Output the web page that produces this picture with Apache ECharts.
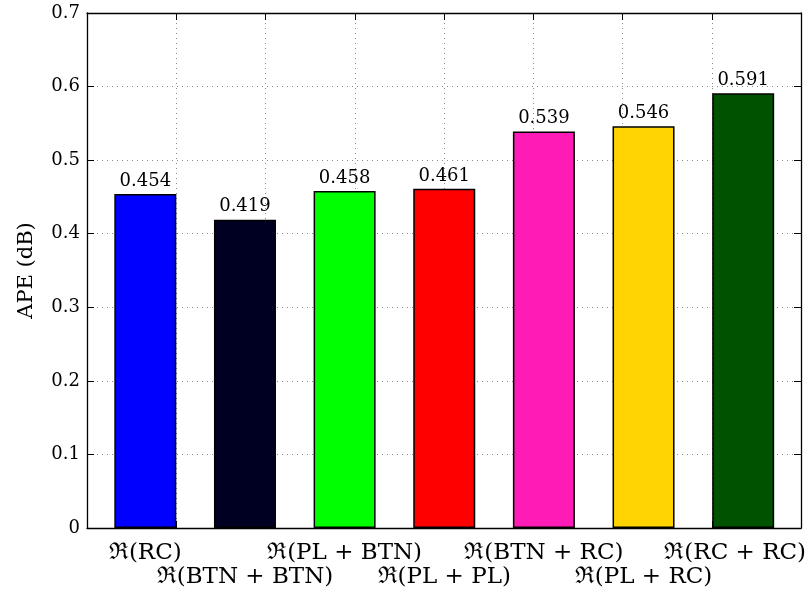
<!DOCTYPE html>
<html>
<head>
<meta charset="utf-8">
<script src="https://cdn.jsdelivr.net/npm/echarts@6/dist/echarts.min.js"></script>
<style>
html,body{margin:0;padding:0;background:#fff;}
#chart{width:810px;height:597px;}
</style>
</head>
<body>
<div id="chart"></div>
<script>
const categories = ['ℜ(RC)', 'ℜ(BTN + BTN)', 'ℜ(PL + BTN)', 'ℜ(PL + PL)', 'ℜ(BTN + RC)', 'ℜ(PL + RC)', 'ℜ(RC + RC)'];
const values = [0.454, 0.419, 0.458, 0.461, 0.539, 0.546, 0.591];
const barColors = ['#0000ff', '#000022', '#00ff00', '#ff0000', '#ff1cb6', '#ffd400', '#005200'];
const yTicks = [0, 0.1, 0.2, 0.3, 0.4, 0.5, 0.6, 0.7];

const FONT = 'DejaVu Serif';
const gridTop = 13, gridH = 515;
const dotted = {show: true, lineStyle: {color: '#8a8a8a', width: 1, type: [1, 4]}};
const frameLine = {show: true, onZero: false, lineStyle: {color: '#000', width: 1.3}};
const tickIn = {show: true, inside: true, length: 7, lineStyle: {color: '#000'}};

const chart = echarts.init(document.getElementById('chart'), null, {renderer: 'canvas'});
chart.setOption({
  animation: false,
  backgroundColor: '#ffffff',
  grid: [
    {left: 87, top: gridTop, width: 714, height: gridH, containLabel: false, outerBoundsMode: 'none'},
    {left: 95.5, top: gridTop, width: 697.5, height: gridH, containLabel: false, outerBoundsMode: 'none'}
  ],
  xAxis: [
    {gridIndex: 0, type: 'value', min: 0, max: 8, interval: 1, position: 'bottom',
     axisLine: frameLine, axisTick: tickIn, axisLabel: {show: false}, splitLine: dotted},
    {gridIndex: 0, type: 'value', min: 0, max: 8, interval: 1, position: 'top',
     axisLine: frameLine, axisTick: tickIn, axisLabel: {show: false}, splitLine: {show: false}},
    {gridIndex: 1, type: 'category', data: categories, position: 'bottom',
     axisLine: {show: false, onZero: false}, axisTick: {show: false}, splitLine: {show: false},
     axisLabel: {show: true, interval: 0, margin: 13, fontFamily: FONT, fontSize: 23,
       color: '#000', lineHeight: 24,
       rich: {last: {fontFamily: FONT, fontSize: 23, color: '#000', lineHeight: 24, padding: [0, 16, 0, 0]}},
       formatter: function (v, i) {
         if (i === categories.length - 1) return '{last|' + v + '}';
         return i % 2 === 1 ? '\n' + v : v;
       }}}
  ],
  yAxis: [
    {gridIndex: 0, type: 'value', min: 0, max: 0.7, interval: 0.1, position: 'left',
     name: 'APE (dB)', nameLocation: 'middle', nameGap: 50,
     nameTextStyle: {fontFamily: FONT, fontSize: 21, color: '#000'},
     axisLine: frameLine, axisTick: tickIn,
     axisLabel: {show: true, margin: 7, fontFamily: FONT, fontSize: 18, color: '#000',
       formatter: function (v) { return yTicks.indexOf(Math.round(v * 10) / 10) >= 0 ? String(Math.round(v * 10) / 10) : ''; }},
     splitLine: dotted},
    {gridIndex: 0, type: 'value', min: 0, max: 0.7, interval: 0.1, position: 'right',
     axisLine: frameLine, axisTick: tickIn, axisLabel: {show: false}, splitLine: {show: false}},
    {gridIndex: 1, type: 'value', min: 0, max: 0.7, show: false}
  ],
  series: [{
    type: 'bar', xAxisIndex: 2, yAxisIndex: 2, barWidth: 62,
    data: values.map(function (v, i) {
      return {value: v, itemStyle: {color: barColors[i], borderColor: '#000', borderWidth: 1.5}};
    }),
    label: {show: true, position: 'top', distance: 4, fontFamily: FONT, fontSize: 18, color: '#000',
      formatter: function (p) { return p.value.toFixed(3); }}
  }]
});
</script>
</body>
</html>
